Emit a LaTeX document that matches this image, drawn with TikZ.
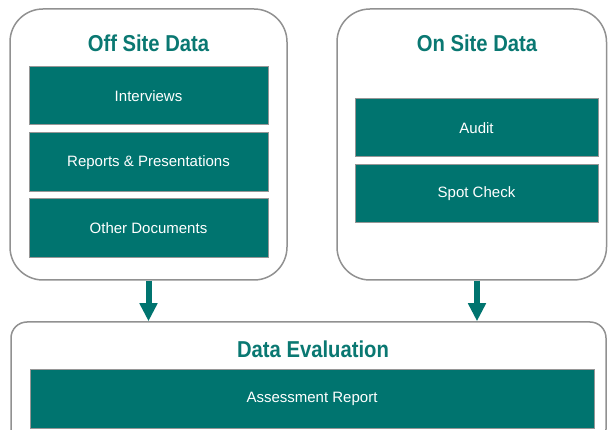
\documentclass[tikz,border=0pt]{standalone}
\usepackage{fontspec}
\setmainfont{Liberation Sans}
\newfontfamily\titlefont[FakeStretch=0.88]{Liberation Sans Bold}
\usetikzlibrary{arrows.meta}
\definecolor{teal1}{RGB}{0,116,111}
\definecolor{tealtext}{RGB}{10,120,114}
\definecolor{outergray}{RGB}{145,145,145}
\definecolor{innergray}{RGB}{150,150,150}
\tikzset{
  outerbox/.style={draw=outergray, line width=1.5pt, fill=white, inner sep=0pt},
  itembox/.style={draw=innergray, line width=1pt, fill=teal1, text=white, inner sep=0pt,
    font=\fontsize{15}{18}\selectfont},
  titletext/.style={text=tealtext, inner sep=0pt, font=\titlefont\fontsize{23}{27}\selectfont},
  flowarrow/.style={draw=teal1, line width=6pt, -{Triangle[width=17pt,length=18pt]}}
}
\begin{document}
\begin{tikzpicture}[x=1pt,y=-1pt]
\useasboundingbox (0,0) rectangle (608,430);
\clip (0,0) rectangle (608,430);
\fill[white] (0,0) rectangle (608,430);
% outer containers
\node[outerbox, rounded corners=33pt, minimum width=277pt, minimum height=271pt] (offsite) at (148.5,144.5) {};
\node[outerbox, rounded corners=33pt, minimum width=269.5pt, minimum height=271pt] (onsite) at (471.75,144.5) {};
\node[outerbox, rounded corners=16pt, minimum width=595pt, minimum height=123pt] (evalbox) at (308.5,383.5) {};
% titles
\node[titletext] (offtitle) at (148.5,43) {Off Site Data};
\node[titletext] (ontitle) at (477,43) {On Site Data};
\node[titletext] (evaltitle) at (313,349) {Data Evaluation};
% off site items
\node[itembox, minimum width=239pt, minimum height=58pt] (interviews) at (148.5,96) {Interviews};
\node[itembox, minimum width=239pt, minimum height=59pt] (reports) at (148.5,162.5) {Reports \& Presentations};
\node[itembox, minimum width=239pt, minimum height=59pt] (otherdocs) at (148.5,228.5) {Other Documents};
% on site items
\node[itembox, minimum width=243pt, minimum height=58pt] (audit) at (476.5,128) {Audit};
\node[itembox, minimum width=243pt, minimum height=58pt] (spotcheck) at (476.5,194) {Spot Check};
% evaluation item
\node[itembox, minimum width=564pt, minimum height=58pt] (assessment) at (312,399) {Assessment Report};
% arrows
\draw[flowarrow] (offsite.south) -- (offsite.south |- evalbox.north);
\draw[flowarrow] ([xshift=5.25pt]onsite.south) -- ([xshift=5.25pt]onsite.south |- evalbox.north);
\end{tikzpicture}
\end{document}
